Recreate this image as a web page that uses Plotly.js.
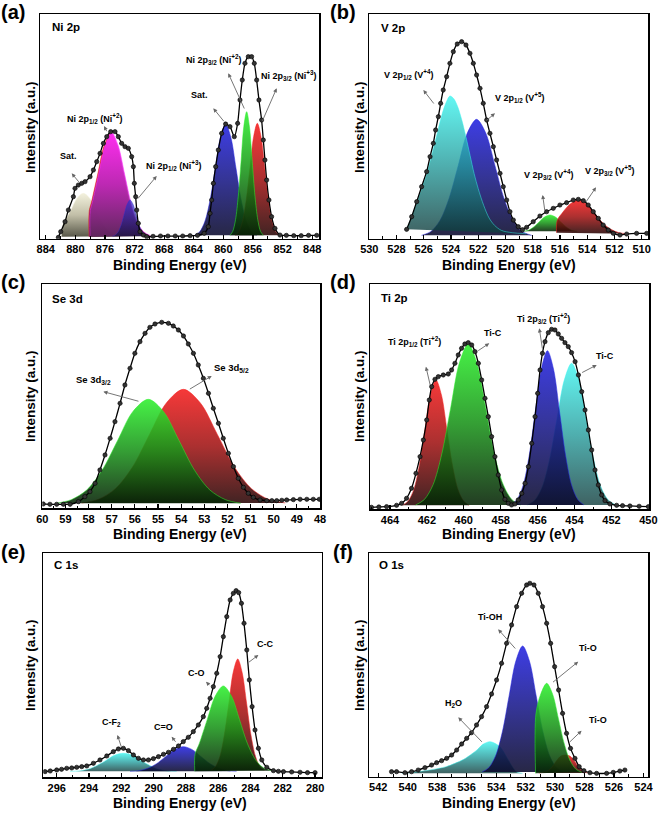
<!DOCTYPE html>
<html><head><meta charset="utf-8">
<script src="https://cdn.plot.ly/plotly-3.0.1.min.js"></script>
<style>html,body{margin:0;padding:0;background:#fff}#chart{width:661px;height:817px}</style>
</head><body><div id="chart"></div>
<script>
// ---------------- (a) Ni 2p ----------------
const aDataE = [882.29,881.97,881.39,880.94,880.26,880.04,879.59,879.14,878.69,878.01,877.56,877.11,876.66,876.21,875.76,875.22,874.64,874.19,873.74,873.29,872.84,872.39,872.16,872.03,871.85,871.71,871.49,871.26,870.81,870.36,869.5,868.5,867.5,866.5,865.5,864.5,863.5,862.6,862.04,861.81,861.59,861.36,861.05,860.69,860.24,859.70,859.11,858.53,858.08,857.76,857.45,857.09,856.64,856.19,855.83,855.51,855.20,854.84,854.61,854.39,854.16,853.85,853.49,853.04,852.36,851.5,850.5,849.5,848.5,847.4];
const aDataI = [4,21,51,86,126,151,161,166,171,186,206,231,256,286,306,321,321,306,286,276,271,246,216,166,126,86,46,21,11,6,7,8,8,8,8,9,10,16,36,76,116,166,216,266,316,344,336,306,346,416,476,526,546,546,526,476,416,356,296,236,176,116,66,31,11,10,9,9,10,10];
const aSatE = [881.9,881.6,881.15,880.61,879.76,878.91,878.06,877.21,876.36,875.51,874.66,873.81];
const aSatI = [6,48,64,85,121,136,121,85,48,24,12,7];
const aRedEdgeE = [878.14,878.12,877.85,876.97,876.1,875.22,874.35,873.47,872.6,871.72,870.85,869.97];
const aRedEdgeI = [6,84,107,194,280,316,278,190,100,40,18,8];
const aMagE = [878.02,878.0,877.73,876.85,875.98,875.1,874.23,873.35,872.48,871.6,870.73,869.85];
const aMagI = [6,84,107,194,280,318,280,194,107,47,20,9];
const aNavyE = [875.0,874.6,874.2,873.8,873.4,873.0,872.6,872.2,871.8,871.4,871.0,870.6,870.2];
const aNavyI = [7,11,21,42,73,103,116,103,73,42,21,11,7];
const aBlueE = [863.9,863.2,862.5,861.8,861.1,860.4,859.7,859.0,858.3,857.6,856.9,856.2,855.5];
const aBlueI = [10,21,52,116,211,304,344,304,211,116,52,21,10];
const aRedE = [858.42,857.92,857.42,856.92,856.42,855.92,855.42,854.92,854.42,853.92,853.42,852.92,852.42];
const aRedI = [10,21,52,116,212,306,346,306,212,116,52,21,10];
const aGreenE = [859.11,858.74,858.36,857.99,857.61,857.24,856.86,856.49,856.11,855.74,855.36,854.99,854.61];
const aGreenI = [10,22,57,128,233,337,381,337,233,128,57,22,10];

// ---------------- (b) V 2p ----------------
const bDataE = [527.26,526.89,526.52,526.16,525.79,525.54,525.30,525.13,524.93,524.76,524.57,524.32,524.08,523.83,523.54,523.22,522.90,522.61,522.36,522.12,521.87,521.63,521.38,521.14,520.89,520.65,520.40,520.16,519.91,519.67,519.42,519.06,518.75,518.45,517.96,517.47,516.98,516.49,516.00,515.51,515.02,514.65,514.28,513.92,513.55,513.18,512.82,512.45,512.08,511.59,511.10,510.37,509.63];
const bDataI = [28,66,111,156,201,246,286,326,366,406,446,486,526,561,584,591,581,556,526,491,451,406,356,316,276,236,196,156,116,81,56,36,27,34,51,68,81,91,101,108,116,118,114,101,81,61,41,26,16,11,14,16,16];
const bBlueE = [526.17,525.5,524.82,524.15,523.47,522.8,522.12,521.45,520.77,520.1,519.42,518.75,518.07];
const bBlueI = [10,21,54,120,219,317,358,317,219,120,54,21,10];
const bCyanE = [527.26,526.89,526.52,526.16,525.79,525.3,524.93,524.57,524.32,524.08,523.8,523.5,523.2,522.9,522.6,522.3,522.0,521.6,521.2,520.8,520.3,519.5,518.5];
const bCyanI = [28,66,108,150,195,270,330,385,412,428,420,395,355,305,250,195,150,100,62,40,25,18,15];
const bGreenE = [518.73,518.33,517.93,517.53,517.13,516.73,516.33,515.93,515.53,515.13,514.73];
const bGreenI = [22,25,35,50,65,71,65,50,35,25,22];
const bRedE = [516.25,516.2,515.85,515.25,514.65,514.05,513.45,512.85,512.25,511.65,511.05];
const bRedI = [18,55,76,104,116,104,76,47,28,18,15];

// ---------------- (c) Se 3d ----------------
const cDataE = [59.96,59.67,59.38,59.09,58.80,58.44,58.16,57.94,57.72,57.51,57.29,57.07,56.86,56.64,56.43,56.21,56.0,55.78,55.56,55.35,55.13,54.84,54.55,54.34,54.12,53.90,53.69,53.47,53.26,53.04,52.82,52.61,52.39,52.18,51.96,51.74,51.53,51.31,51.10,50.88,50.59,50.30,50.08,49.87,49.65,49.44,49.15,48.86,48.57,48.29,48.03];
const cDataI = [13,12,12,12,12,20,35,50,75,115,160,210,260,315,370,420,465,500,525,543,553,558,555,547,535,517,493,465,430,390,345,300,255,210,165,125,90,63,45,33,25,23,23,23,24,25,26,27,27,27,27];
const cRedE = [58.3,57.57,56.84,56.1,55.37,54.64,53.9,53.17,52.43,51.7,50.96,50.23,49.5];
const cRedI = [16,27,59,124,221,316,357,316,221,124,59,27,16];
const cGreenE = [59.4,58.75,58.08,57.42,56.75,56.09,55.42,54.76,54.09,53.42,52.76,52.09,51.42];
const cGreenI = [15,26,55,114,203,290,327,290,203,114,55,26,15];

// ---------------- (d) Ti 2p ----------------
const dDataE = [465.0,464.6,464.18,463.64,463.37,463.10,462.83,462.59,462.37,462.19,462.01,461.87,461.74,461.56,461.38,461.11,460.84,460.66,460.48,460.30,460.12,459.94,459.76,459.57,459.39,459.21,459.03,458.85,458.67,458.49,458.31,458.13,457.95,457.77,457.59,457.41,457.23,457.05,456.86,456.68,456.50,456.32,456.14,456.0,455.87,455.74,455.60,455.42,455.24,455.06,454.88,454.70,454.52,454.34,454.16,453.97,453.79,453.61,453.43,453.25,453.07,452.89,452.71,452.53,452.35,452.08,451.72,451.4,451.0,450.5,450.0];
const dDataI = [6,7,8,12,18,33,63,108,158,208,268,328,368,390,398,403,406,418,438,463,483,496,500,493,473,438,388,333,278,218,158,103,58,30,18,13,16,28,48,78,128,198,278,348,418,468,503,530,540,538,526,513,500,488,470,443,403,353,298,238,178,118,73,43,26,16,12,11,10,9,8];
const dRedE = [463.31,463.01,462.71,462.41,462.11,461.81,461.51,461.21,460.91,460.61,460.31,460.01,459.71];
const dRedI = [12,25,59,131,238,343,388,343,238,131,59,25,12];
const dGreenE = [462.61,462.14,461.66,461.19,460.71,460.24,459.76,459.29,458.81,458.34,457.86,457.39,456.91];
const dGreenI = [13,29,74,166,304,439,496,439,304,166,74,29,13];
const dCyanE = [456.56,456.16,455.76,455.36,454.96,454.56,454.16,453.76,453.36,452.96,452.56,452.16,451.76];
const dCyanI = [13,27,66,148,269,387,438,387,269,148,66,27,13];
const dBlueE = [457.45,457.12,456.79,456.46,456.13,455.8,455.47,455.14,454.81,454.48,454.15,453.82,453.49];
const dBlueI = [13,29,71,160,292,421,476,421,292,160,71,29,13];

// ---------------- (e) C 1s ----------------
const eDataE = [296.72,296.4,296.0,295.7,295.38,295.07,294.76,294.45,294.14,293.73,293.32,292.90,292.49,292.18,291.87,291.56,291.25,290.94,290.63,290.32,290.01,289.70,289.39,289.08,288.77,288.46,288.16,287.85,287.54,287.23,286.92,286.71,286.50,286.30,286.09,285.88,285.68,285.47,285.26,285.06,284.89,284.73,284.56,284.40,284.23,284.07,283.90,283.72,283.51,283.30,282.99,282.58,282.27,281.96,281.45,280.93,280.47,280.0];
const eDataI = [17,19,22,24,27,28,30,32,34,42,52,64,77,85,87,80,67,57,52,52,56,62,69,75,84,94,107,120,137,157,182,207,237,272,312,362,422,482,532,552,560,554,522,462,382,292,212,142,87,52,30,20,18,17,16,15,14,14];
const eCyanE = [295.17,294.62,294.07,293.52,292.97,292.42,291.87,291.32,290.77,290.22,289.67,289.12,288.57];
const eCyanI = [18,19,24,35,50,66,72,66,50,35,24,19,18];
const eBlueE = [291.46,290.91,290.36,289.81,289.26,288.71,288.16,287.61,287.06,286.51,285.96,285.41,284.86];
const eBlueI = [18,20,27,41,62,83,92,83,62,41,27,20,18];
const eRedE = [286.44,286.17,285.89,285.62,285.34,285.07,284.79,284.52,284.24,283.97,283.69,283.42,283.14];
const eRedI = [21,32,63,127,222,315,355,315,222,127,63,32,21];
const eGreenE = [287.45,287.43,287.18,286.68,286.18,285.68,285.18,284.68,284.18,283.68,283.18,282.68];
const eGreenI = [18,70,100,173,244,274,244,173,100,52,28,20];

// ---------------- (f) O 1s ----------------
const fDataE = [541.10,540.76,540.19,539.74,539.29,538.83,538.38,538.04,537.70,537.36,537.02,536.68,536.34,536.0,535.67,535.33,534.99,534.65,534.31,533.97,533.63,533.29,532.95,532.61,532.27,531.93,531.71,531.43,531.14,530.85,530.57,530.30,530.03,529.76,529.49,529.22,528.95,528.65,528.36,528.04,527.63,527.18,526.50,526.05,525.60,525.26];
const fDataI = [15,15,12,15,20,27,35,42,48,55,65,80,98,115,132,155,180,210,248,290,340,400,455,510,550,575,580,575,550,510,460,400,330,260,190,130,85,55,30,18,12,10,10,13,17,20];
const fCyanE = [540.4,539.5,538.5,537.4,536.8,536.2,535.6,535.3,534.9,534.42,534.0,533.7,533.3,532.9,532.6,532.2];
const fCyanI = [10,14,20,30,40,52,70,80,97,105,98,88,60,30,14,10];
const fBlueE = [534.96,534.5,534.04,533.58,533.12,532.66,532.2,531.74,531.28,530.82,530.36,529.9,529.44];
const fBlueI = [14,27,62,134,242,347,392,347,242,134,62,27,14];
const fRedE = [531.1,530.5,530.2,529.9,529.6,529.3,529.0,528.7,528.4,528.1,527.8];
const fRedI = [11,17,29,48,62,65,62,48,29,17,11];
const fGreenE = [531.32,531.3,530.97,530.57,530.17,529.77,529.37,528.97,528.57,528.17];
const fGreenI = [10,188,248,280,248,174,98,47,22,13];

// ---------------- styling ----------------
const F = 'Liberation Sans, Arial, Helvetica, sans-serif';
const W = 661, H = 817;
const C = {
  green:  ['rgba(5,35,5,0.88)','rgba(25,145,25,0.88)','rgba(45,240,45,0.88)'],
  red:    ['rgba(40,5,5,0.88)','rgba(160,20,20,0.88)','rgba(245,30,30,0.88)'],
  blue:   ['rgba(10,10,45,0.88)','rgba(25,25,135,0.88)','rgba(35,35,225,0.88)'],
  cyan:   ['rgba(15,60,60,0.8)','rgba(35,155,155,0.8)','rgba(60,245,240,0.8)'],
  magenta:['rgba(100,40,100,0.92)','rgba(190,40,190,0.92)','rgba(255,45,255,0.92)'],
  beige:  ['rgba(75,74,58,0.92)','rgba(188,185,160,0.92)','rgba(242,240,218,0.92)'],
  navy:   ['rgba(15,15,60,0.7)','rgba(35,35,140,0.7)','rgba(50,50,210,0.7)']
};
function comp(ax, E, I, c) {
  return {type:'scatter', mode:'lines', x:E, y:I, xaxis:'x'+ax, yaxis:'y'+ax,
    line:{width:0.6, color:c[2], shape:'spline', smoothing:0.9},
    fill:'toself', fillcolor:c[2],
    fillgradient:{type:'vertical', start:Math.min(...I), stop:Math.max(...I),
      colorscale:[[0,c[0]],[0.5,c[1]],[1,c[2]]]},
    hoverinfo:'skip', showlegend:false};
}
function dat(ax, E, I) {
  return {type:'scatter', mode:'lines+markers', x:E, y:I, xaxis:'x'+ax, yaxis:'y'+ax,
    line:{color:'#000', width:1.3, shape:'spline', smoothing:0.6},
    marker:{size:4.3, color:'#333', line:{color:'#000', width:0.6}},
    hoverinfo:'skip', showlegend:false};
}
const traces = [
  comp('', aSatE, aSatI, C.beige), comp('', aRedEdgeE, aRedEdgeI, C.red), comp('', aMagE, aMagI, C.magenta),
  comp('', aNavyE, aNavyI, C.navy), comp('', aBlueE, aBlueI, C.blue), comp('', aRedE, aRedI, C.red),
  comp('', aGreenE, aGreenI, C.green), dat('', aDataE, aDataI),
  comp('2', bBlueE, bBlueI, C.blue), comp('2', bCyanE, bCyanI, C.cyan), comp('2', bGreenE, bGreenI, C.green),
  comp('2', bRedE, bRedI, C.red), dat('2', bDataE, bDataI),
  comp('3', cRedE, cRedI, C.red), comp('3', cGreenE, cGreenI, C.green), dat('3', cDataE, cDataI),
  comp('4', dRedE, dRedI, C.red), comp('4', dGreenE, dGreenI, C.green), comp('4', dCyanE, dCyanI, C.cyan),
  comp('4', dBlueE, dBlueI, C.blue), dat('4', dDataE, dDataI),
  comp('5', eCyanE, eCyanI, C.cyan), comp('5', eBlueE, eBlueI, C.blue), comp('5', eRedE, eRedI, C.red),
  comp('5', eGreenE, eGreenI, C.green), dat('5', eDataE, eDataI),
  comp('6', fCyanE, fCyanI, C.cyan), comp('6', fBlueE, fBlueI, C.blue), comp('6', fRedE, fRedI, C.red),
  comp('6', fGreenE, fGreenI, C.green), dat('6', fDataE, fDataI)
];

// panel geometry (pixels) and axis settings
const panels = [
  {id:'',  x:[40,319.3],   y:[14,238.7],    r:[884.77,847.05], t0:848, dt:4, mdt:2,   ym:674},
  {id:'2', x:[369.3,648.3],y:[14,238.7],    r:[530.0,509.51],  t0:510, dt:2, mdt:1,   ym:674},
  {id:'3', x:[42.3,320],   y:[284,508.3],   r:[60.0,48.0],     t0:48,  dt:1, mdt:0.5, ym:673},
  {id:'4', x:[370,649.3],  y:[284,509.3],   r:[465.08,449.95], t0:450, dt:2, mdt:1,   ym:676},
  {id:'5', x:[43.3,321.7], y:[553.3,777.3], r:[296.83,279.59], t0:280, dt:2, mdt:1,   ym:672},
  {id:'6', x:[369.3,648.3],y:[553.3,776.7], r:[542.61,523.67], t0:524, dt:2, mdt:1,   ym:670}
];
const layout = {width:W, height:H, margin:{l:0,r:0,t:0,b:0}, paper_bgcolor:'#fff', plot_bgcolor:'#fff',
  showlegend:false, annotations:[]};
panels.forEach(p => {
  layout['xaxis'+p.id] = {domain:[p.x[0]/W, p.x[1]/W], range:p.r, anchor:'y'+p.id,
    tickmode:'linear', tick0:p.t0, dtick:p.dt, ticks:'inside', ticklen:4, tickwidth:1.2, tickcolor:'#000',
    minor:{dtick:p.mdt, ticks:'inside', ticklen:2.5, tickwidth:1, tickcolor:'#000'},
    showline:true, linecolor:'#000', linewidth:1.5, mirror:true, showgrid:false, zeroline:false,
    tickfont:{family:F, size:11, color:'#000', weight:'bold'}, fixedrange:true};
  layout['yaxis'+p.id] = {domain:[1-p.y[1]/H, 1-p.y[0]/H], range:[0,p.ym], anchor:'x'+p.id,
    showticklabels:false, ticks:'', showline:true, linecolor:'#000', linewidth:1.5, mirror:true,
    showgrid:false, zeroline:false, fixedrange:true};
});
const A = layout.annotations;
function lab(ax, x, y, text, size) {
  A.push({xref:'x'+ax, yref:'y'+ax, x:x, y:y, text:'<b>'+text+'</b>', showarrow:false,
    font:{family:F, size:size||9, color:'#000'}, xanchor:'center', yanchor:'middle'});
}
function ttl(ax, x, y, text) {
  A.push({xref:'x'+ax, yref:'y'+ax, x:x, y:y, text:'<b>'+text+'</b>', showarrow:false,
    font:{family:F, size:11.5, color:'#000'}, xanchor:'left', yanchor:'middle'});
}
function arr(ax, hx, hy, tx, ty) {
  A.push({xref:'x'+ax, yref:'y'+ax, axref:'x'+ax, ayref:'y'+ax, x:hx, y:hy, ax:tx, ay:ty, text:'',
    showarrow:true, arrowhead:2, arrowsize:0.9, arrowwidth:0.9, arrowcolor:'#666', standoff:0, startstandoff:0});
}
// (a)
ttl('', 883.41, 636, 'Ni 2p');
lab('', 880.94, 248, 'Sat.');
lab('', 877.43, 361, 'Ni 2p<sub>1/2</sub> (Ni<sup>+2</sup>)');
lab('', 866.76, 221, 'Ni 2p<sub>1/2</sub> (Ni<sup>+3</sup>)');
lab('', 863.25, 431, 'Sat.');
lab('', 861.3, 538, 'Ni 2p<sub>3/2</sub> (Ni<sup>+2</sup>)');
lab('', 851.24, 491, 'Ni 2p<sub>3/2</sub> (Ni<sup>+3</sup>)');
arr('', 880.49, 196, 879.36, 166);
arr('', 876.12, 338, 875.67, 318);
arr('', 869.01, 188, 871.71, 116);
arr('', 861.36, 391, 859.79, 348);
arr('', 859.34, 496, 857.09, 386);
arr('', 852.81, 451, 854.84, 348);
// (b)
ttl('2', 529.27, 631, 'V 2p');
lab('2', 527.14, 494, 'V 2p<sub>1/2</sub> (V<sup>+4</sup>)');
lab('2', 518.94, 424, 'V 2p<sub>1/2</sub> (V<sup>+5</sup>)');
lab('2', 516.85, 194, 'V 2p<sub>3/2</sub> (V<sup>+4</sup>)');
lab('2', 512.33, 206, 'V 2p<sub>3/2</sub> (V<sup>+5</sup>)');
arr('2', 526.03, 446, 525.18, 401);
arr('2', 520.77, 376, 521.51, 351);
arr('2', 517.27, 131, 517.1, 81);
arr('2', 513.35, 154, 514.16, 106);
// (c)
ttl('3', 59.67, 627, 'Se 3d');
lab('3', 57.80, 385, 'Se 3d<sub>3/2</sub>', 9.5);
lab('3', 51.82, 420, 'Se 3d<sub>5/2</sub>', 9.5);
arr('3', 57.36, 350, 55.78, 320);
arr('3', 52.68, 397, 53.69, 355);
// (d)
ttl('4', 464.58, 633, 'Ti 2p');
lab('4', 462.65, 503, 'Ti 2p<sub>1/2</sub> (Ti<sup>+2</sup>)');
lab('4', 458.4, 530, 'Ti-C');
lab('4', 455.69, 573, 'Ti 2p<sub>3/2</sub> (Ti<sup>+2</sup>)');
lab('4', 452.35, 460, 'Ti-C');
arr('4', 462.05, 428, 461.8, 368);
arr('4', 458.62, 498, 459.3, 473);
arr('4', 455.91, 543, 455.73, 478);
arr('4', 452.8, 433, 453.67, 408);
// (e)
ttl('5', 296.31, 637, 'C 1s');
lab('5', 292.59, 164, 'C-F<sub>2</sub>');
lab('5', 289.39, 150, 'C=O');
lab('5', 287.33, 314, 'C-O');
lab('5', 283.1, 400, 'C-C');
arr('5', 292.24, 127, 291.97, 87);
arr('5', 288.88, 122, 288.57, 102);
arr('5', 286.75, 287, 286.46, 272);
arr('5', 283.51, 367, 284.19, 342);
// (f)
ttl('6', 542.11, 635, 'O 1s');
lab('6', 534.42, 480, 'Ti-OH');
lab('6', 527.75, 385, 'Ti-O');
lab('6', 536.91, 220, 'H<sub>2</sub>O');
lab('6', 527.07, 170, 'Ti-O');
arr('6', 533.86, 442, 532.61, 380);
arr('6', 528.43, 345, 530.24, 280);
arr('6', 536.57, 178, 534.87, 100);
arr('6', 528.2, 138, 529.1, 100);

// paper-level texts: panel letters, axis titles
function ptxt(px, py, text, size, angle) {
  A.push({xref:'paper', yref:'paper', x:px/W, y:1-py/H, text:'<b>'+text+'</b>', showarrow:false,
    font:{family:F, size:size, color:'#000'}, xanchor:'center', yanchor:'middle', textangle:angle||0});
}
ptxt(13, 12.5, '(a)', 20); ptxt(343, 12.5, '(b)', 20);
ptxt(13, 282, '(c)', 20); ptxt(343, 282, '(d)', 20);
ptxt(13, 551.5, '(e)', 20); ptxt(343, 551.5, '(f)', 20);
[265, 534, 803].forEach(py => { ptxt(180, py, 'Binding Energy (eV)', 14); ptxt(509, py, 'Binding Energy (eV)', 14); });
[[127],[396],[665]].forEach(r => { ptxt(30, r[0], 'Intensity (a.u.)', 13.5, -90); ptxt(359, r[0], 'Intensity (a.u.)', 13.5, -90); });

Plotly.newPlot('chart', traces, layout, {staticPlot:true, displayModeBar:false});
</script></body></html>
